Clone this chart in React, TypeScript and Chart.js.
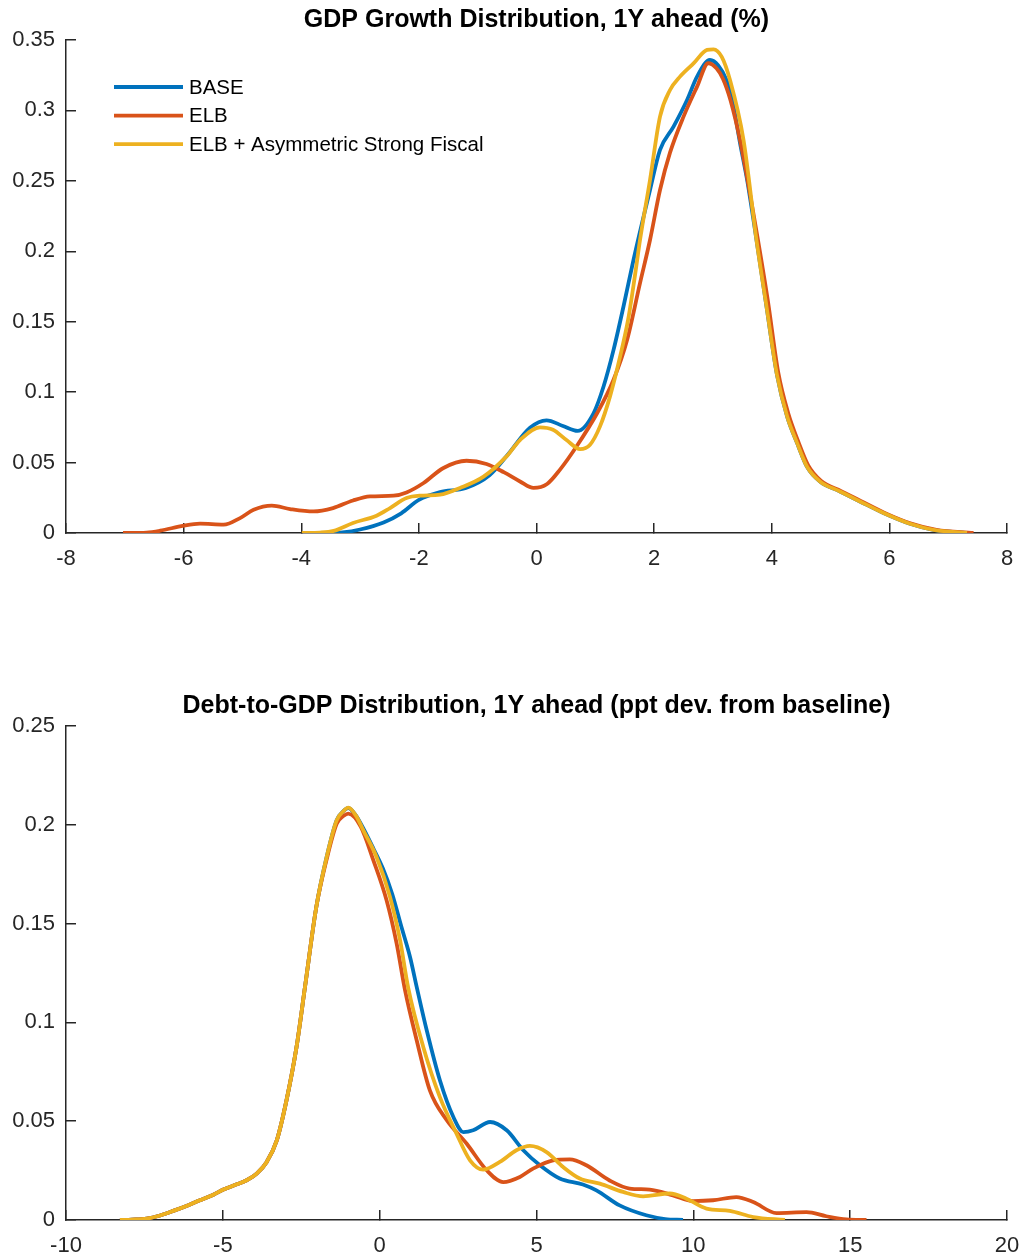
import React, { useEffect, useRef } from 'react';
import { Chart, registerables } from 'chart.js';

Chart.register(...registerables);

// ---------- Shared series info ----------
const SERIES_NAMES = ['BASE', 'ELB', 'ELB + Asymmetric Strong Fiscal'];
const SERIES_COLORS = ['#0072BD', '#D95319', '#EDB120'];

// ---------- Top panel: GDP growth density ----------
const GDP_TITLE = 'GDP Growth Distribution, 1Y ahead (%)';
const GDP_X_TICKS = [-8, -6, -4, -2, 0, 2, 4, 6, 8];
const GDP_Y_TICKS = [0, 0.05, 0.1, 0.15, 0.2, 0.25, 0.3, 0.35];

const GDP_BASE_X = [-3.63, -3.3, -3.0, -2.6, -2.3, -2.0, -1.64, -1.2, -0.8, -0.5, -0.11, 0.17, 0.45, 0.7, 0.97, 1.14, 1.31, 1.48, 1.65, 1.93, 2.1, 2.33, 2.56, 2.73, 2.95, 3.09, 3.23, 3.34, 3.46, 3.58, 3.69, 3.91, 4.09, 4.26, 4.43, 4.6, 4.82, 5.16, 5.5, 5.9, 6.35, 6.75, 7.32];
const GDP_BASE_Y = [0, 0.0005, 0.0025, 0.0075, 0.014, 0.0235, 0.029, 0.032, 0.041, 0.055, 0.0747, 0.08, 0.076, 0.0725, 0.085, 0.104, 0.13, 0.161, 0.194, 0.2435, 0.272, 0.2885, 0.3074, 0.324, 0.3358, 0.332, 0.3216, 0.305, 0.277, 0.251, 0.222, 0.161, 0.112, 0.083, 0.064, 0.047, 0.0366, 0.0295, 0.0224, 0.0142, 0.0066, 0.0023, 0];

const GDP_ELB_X = [-7.03, -6.63, -6.4, -6.0, -5.72, -5.32, -5.04, -4.81, -4.5, -4.19, -3.79, -3.46, -3.12, -2.83, -2.43, -2.21, -1.92, -1.59, -1.19, -0.85, -0.55, -0.28, -0.05, 0.18, 0.4, 0.68, 1.03, 1.31, 1.54, 1.76, 1.93, 2.1, 2.27, 2.5, 2.73, 2.92, 3.06, 3.17, 3.3, 3.47, 3.7, 3.93, 4.11, 4.28, 4.45, 4.62, 4.84, 5.18, 5.52, 5.92, 6.37, 6.8, 7.43];
const GDP_ELB_Y = [0, 0.0003, 0.0016, 0.0052, 0.0066, 0.0059, 0.0106, 0.0165, 0.0194, 0.017, 0.0153, 0.0177, 0.0231, 0.026, 0.0265, 0.0288, 0.0355, 0.046, 0.0513, 0.049, 0.043, 0.0366, 0.032, 0.0348, 0.045, 0.0614, 0.085, 0.1088, 0.137, 0.1774, 0.208, 0.2435, 0.27, 0.2956, 0.3169, 0.3335, 0.33, 0.3225, 0.307, 0.277, 0.224, 0.166, 0.114, 0.085, 0.065, 0.048, 0.037, 0.0297, 0.0226, 0.0143, 0.0067, 0.0022, 0];

const GDP_ASYM_X = [-3.99, -3.68, -3.45, -3.12, -2.72, -2.49, -2.21, -1.98, -1.64, -1.3, -0.9, -0.51, -0.28, 0.06, 0.28, 0.51, 0.74, 0.91, 1.08, 1.25, 1.42, 1.56, 1.68, 1.76, 1.93, 2.1, 2.27, 2.44, 2.67, 2.9, 3.01, 3.15, 3.29, 3.52, 3.74, 3.91, 4.09, 4.26, 4.43, 4.6, 4.82, 5.16, 5.5, 5.9, 6.35, 6.75, 7.32];
const GDP_ASYM_Y = [0, 0.0003, 0.0015, 0.0071, 0.0123, 0.0177, 0.0248, 0.0265, 0.0272, 0.032, 0.04, 0.0544, 0.066, 0.075, 0.0733, 0.066, 0.0596, 0.0627, 0.0757, 0.097, 0.125, 0.152, 0.1845, 0.208, 0.2506, 0.2956, 0.3145, 0.324, 0.3334, 0.343, 0.3434, 0.338, 0.3216, 0.279, 0.208, 0.161, 0.112, 0.083, 0.064, 0.047, 0.0366, 0.0295, 0.0224, 0.0142, 0.0066, 0.0023, 0];

// ---------- Bottom panel: Debt-to-GDP density ----------
const DEBT_TITLE = 'Debt-to-GDP Distribution, 1Y ahead (ppt dev. from baseline)';
const DEBT_X_TICKS = [-10, -5, 0, 5, 10, 15, 20];
const DEBT_Y_TICKS = [0, 0.05, 0.1, 0.15, 0.2, 0.25];

const DEBT_BASE_X = [-8.28, -7.9, -7.43, -7.0, -6.58, -6.1, -5.73, -5.3, -4.98, -4.6, -4.24, -3.92, -3.6, -3.28, -2.97, -2.65, -2.38, -2.02, -1.69, -1.37, -1.15, -1.0, -0.75, -0.5, -0.2, 0.1, 0.4, 0.7, 0.97, 1.18, 1.5, 1.92, 2.35, 2.67, 2.98, 3.52, 4.05, 4.58, 5.11, 5.74, 6.48, 6.91, 7.65, 8.5, 9.1, 9.67];
const DEBT_BASE_Y = [0, 0.0002, 0.0007, 0.0023, 0.0046, 0.0075, 0.01, 0.0128, 0.0154, 0.0178, 0.0201, 0.0235, 0.0294, 0.0403, 0.0606, 0.0876, 0.118, 0.1584, 0.1837, 0.2023, 0.207, 0.2085, 0.2045, 0.1975, 0.188, 0.178, 0.165, 0.148, 0.133, 0.118, 0.096, 0.0707, 0.0521, 0.0445, 0.0454, 0.0496, 0.0454, 0.0353, 0.0277, 0.021, 0.018, 0.015, 0.0074, 0.0024, 0.0005, 0];

const DEBT_ELB_X = [-8.28, -7.9, -7.43, -7.0, -6.58, -6.1, -5.73, -5.3, -4.98, -4.6, -4.24, -3.92, -3.6, -3.28, -2.97, -2.65, -2.38, -2.02, -1.69, -1.37, -1.15, -1.0, -0.6, -0.2, 0.22, 0.54, 0.81, 1.18, 1.6, 2.14, 2.77, 3.41, 3.94, 4.47, 4.89, 5.53, 6.06, 6.59, 7.33, 7.97, 8.61, 9.35, 9.99, 10.63, 11.37, 11.91, 12.65, 13.61, 14.24, 14.88, 15.52];
const DEBT_ELB_Y = [0, 0.0002, 0.0007, 0.0023, 0.0046, 0.0075, 0.01, 0.0128, 0.0154, 0.0178, 0.0201, 0.0235, 0.0294, 0.0403, 0.0606, 0.0876, 0.118, 0.1584, 0.1825, 0.2005, 0.2045, 0.2057, 0.199, 0.182, 0.1618, 0.14, 0.1162, 0.091, 0.0656, 0.0505, 0.0387, 0.0252, 0.0192, 0.0218, 0.026, 0.0302, 0.0307, 0.0277, 0.02, 0.0159, 0.0154, 0.0125, 0.0096, 0.01, 0.0116, 0.0091, 0.0035, 0.004, 0.0019, 0.0003, 0];

const DEBT_ASYM_X = [-8.28, -7.9, -7.43, -7.0, -6.58, -6.1, -5.73, -5.3, -4.98, -4.6, -4.24, -3.92, -3.6, -3.28, -2.97, -2.65, -2.38, -2.02, -1.69, -1.37, -1.15, -1.0, -0.75, -0.52, -0.1, 0.33, 0.65, 0.91, 1.39, 1.92, 2.45, 2.88, 3.3, 3.83, 4.36, 4.79, 5.32, 5.85, 6.38, 7.02, 7.76, 8.4, 9.25, 9.78, 10.42, 11.16, 11.91, 12.92];
const DEBT_ASYM_Y = [0, 0.0002, 0.0007, 0.0023, 0.0046, 0.0075, 0.01, 0.0128, 0.0154, 0.0178, 0.0201, 0.0235, 0.0294, 0.0403, 0.0606, 0.0876, 0.118, 0.1584, 0.1837, 0.2023, 0.207, 0.2087, 0.2045, 0.1972, 0.1837, 0.1635, 0.1416, 0.1175, 0.0876, 0.0622, 0.0437, 0.0302, 0.0255, 0.0294, 0.0353, 0.0375, 0.0344, 0.0268, 0.021, 0.0184, 0.0142, 0.012, 0.0134, 0.0108, 0.0058, 0.0046, 0.0015, 0];

// ---------- Styling ----------
const FONT_FAMILY = '"Liberation Sans", Arial, Helvetica, sans-serif';
const AXIS_COLOR = '#262626';

const fmt = (v: number) => String(Number(Number(v).toFixed(2)));

const insideLegend = {
  id: 'insideLegend',
  afterDraw(chart: any) {
    const opts = chart.options.plugins.insideLegend;
    if (!opts || !opts.show) return;
    const { ctx, chartArea } = chart;
    ctx.save();
    SERIES_NAMES.forEach((name, i) => {
      const y = chartArea.top + 47 + i * 28.6;
      ctx.strokeStyle = SERIES_COLORS[i];
      ctx.lineWidth = 3.8;
      ctx.lineCap = 'butt';
      ctx.beginPath();
      ctx.moveTo(chartArea.left + 48, y);
      ctx.lineTo(chartArea.left + 117, y);
      ctx.stroke();
      ctx.fillStyle = '#000000';
      ctx.font = `20.5px ${FONT_FAMILY}`;
      ctx.textAlign = 'left';
      ctx.textBaseline = 'middle';
      ctx.fillText(name, chartArea.left + 123, y + 1);
    });
    ctx.restore();
  },
};

type PanelProps = {
  top: number;
  height: number;
  title: string;
  xTicks: number[];
  yTicks: number[];
  series: { x: number[]; y: number[] }[];
  legend: boolean;
};

function DensityPanel({ top, height, title, xTicks, yTicks, series, legend }: PanelProps) {
  const ref = useRef<HTMLCanvasElement | null>(null);

  useEffect(() => {
    if (!ref.current) return;
    const datasets = series.map((s, i) => ({
      label: SERIES_NAMES[i],
      data: s.x.map((x, j) => ({ x, y: s.y[j] })),
      borderColor: SERIES_COLORS[i],
      backgroundColor: SERIES_COLORS[i],
      borderWidth: 3.8,
      borderJoinStyle: 'round' as const,
      pointRadius: 0,
      fill: false,
      cubicInterpolationMode: 'monotone' as const,
      order: 2 - i,
    }));

    const tickFont = { family: FONT_FAMILY, size: 22 };
    const gridOpts = {
      display: true,
      drawOnChartArea: false,
      drawTicks: true,
      tickLength: -10,
      color: AXIS_COLOR,
      tickColor: AXIS_COLOR,
      lineWidth: 1.5,
      tickWidth: 1.5,
    };
    const borderOpts = { display: true, color: AXIS_COLOR, width: 1.5 };

    const chart = new Chart(ref.current, {
      type: 'line',
      data: { datasets },
      plugins: [insideLegend],
      options: {
        responsive: false,
        animation: false,
        layout: { padding: { left: 0, right: 19, top: 0, bottom: 0 } },
        plugins: {
          legend: { display: false },
          tooltip: { enabled: false },
          title: {
            display: true,
            fullSize: false,
            text: title,
            color: '#000000',
            font: { family: FONT_FAMILY, size: 25, weight: 'bold' },
            padding: { top: 5, bottom: 5 },
          },
          insideLegend: { show: legend },
        } as any,
        scales: {
          x: {
            type: 'linear',
            min: xTicks[0],
            max: xTicks[xTicks.length - 1],
            afterBuildTicks: (s: any) => {
              s.ticks = xTicks.map((v) => ({ value: v }));
            },
            afterFit: (s: any) => {
              s.height = 40;
              s.paddingLeft = 0;
              s.paddingRight = 0;
            },
            grid: gridOpts,
            border: borderOpts,
            ticks: {
              padding: 23,
              font: tickFont,
              color: AXIS_COLOR,
              maxRotation: 0,
              autoSkip: false,
              callback: (v: any) => fmt(v),
            },
          },
          y: {
            type: 'linear',
            min: yTicks[0],
            max: yTicks[yTicks.length - 1],
            afterBuildTicks: (s: any) => {
              s.ticks = yTicks.map((v) => ({ value: v }));
            },
            afterFit: (s: any) => {
              s.width = 66;
              s.paddingTop = 0;
              s.paddingBottom = 0;
            },
            grid: gridOpts,
            border: borderOpts,
            ticks: {
              padding: 21,
              font: tickFont,
              color: AXIS_COLOR,
              autoSkip: false,
              callback: (v: any) => fmt(v),
            },
          },
        },
      } as any,
    });
    return () => chart.destroy();
  }, []);

  return (
    <canvas
      ref={ref}
      width={1026}
      height={height}
      style={{ position: 'absolute', left: 0, top, display: 'block', width: 1026, height }}
    />
  );
}

export default function App() {
  return (
    <div style={{ position: 'absolute', left: 0, top: 0, width: 1026, height: 1260, background: '#ffffff' }}>
      <DensityPanel
        top={0}
        height={573}
        title={GDP_TITLE}
        xTicks={GDP_X_TICKS}
        yTicks={GDP_Y_TICKS}
        series={[
          { x: GDP_BASE_X, y: GDP_BASE_Y },
          { x: GDP_ELB_X, y: GDP_ELB_Y },
          { x: GDP_ASYM_X, y: GDP_ASYM_Y },
        ]}
        legend={true}
      />
      <DensityPanel
        top={686}
        height={574}
        title={DEBT_TITLE}
        xTicks={DEBT_X_TICKS}
        yTicks={DEBT_Y_TICKS}
        series={[
          { x: DEBT_BASE_X, y: DEBT_BASE_Y },
          { x: DEBT_ELB_X, y: DEBT_ELB_Y },
          { x: DEBT_ASYM_X, y: DEBT_ASYM_Y },
        ]}
        legend={false}
      />
    </div>
  );
}
